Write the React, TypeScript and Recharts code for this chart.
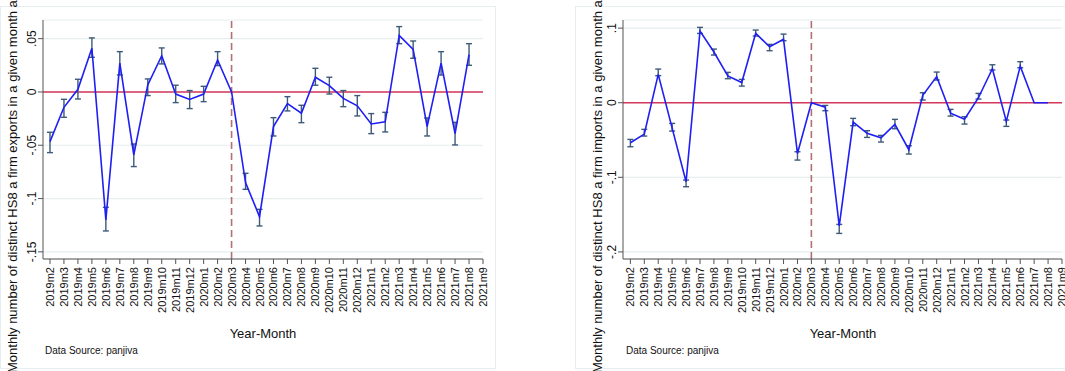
import React from 'react';
import { ComposedChart, Line, ErrorBar, XAxis, YAxis, CartesianGrid, ReferenceLine } from 'recharts';

const months = [
  '2019m2', '2019m3', '2019m4', '2019m5', '2019m6', '2019m7', '2019m8', '2019m9', '2019m10', '2019m11', '2019m12',
  '2020m1', '2020m2', '2020m3', '2020m4', '2020m5', '2020m6', '2020m7', '2020m8', '2020m9', '2020m10', '2020m11', '2020m12',
  '2021m1', '2021m2', '2021m3', '2021m4', '2021m5', '2021m6', '2021m7', '2021m8', '2021m9',
];

// exports panel
const exportsCoef = [
  -0.0466, -0.0144, 0.0025, 0.041, -0.12, 0.027, -0.059, 0.0066, 0.034, -0.002, -0.007,
  -0.002, 0.03, 0, -0.085, -0.117, -0.0325, -0.011, -0.02, 0.0138, 0.006, -0.006, -0.013,
  -0.03, -0.028, 0.053, 0.04, -0.0325, 0.027, -0.039, 0.035, null,
];
const exportsLo = [
  -0.0569, -0.0238, -0.0066, 0.0325, -0.1304, 0.0159, -0.07, -0.0034, 0.0263, -0.01, -0.0156,
  -0.0091, 0.0247, null, -0.0913, -0.1257, -0.0413, -0.0178, -0.0288, 0.0063, -0.0019, -0.0138, -0.0225,
  -0.0391, -0.0375, 0.0453, 0.0316, -0.0413, 0.0159, -0.0497, 0.025, null,
];
const exportsHi = [
  -0.0378, -0.0069, 0.0119, 0.0507, -0.1082, 0.0378, -0.0488, 0.0122, 0.0413, 0.0063, 0.0013,
  0.0053, 0.0378, null, -0.0763, -0.1101, -0.0241, -0.0044, -0.0125, 0.0222, 0.0138, 0.0013, -0.0034,
  -0.0203, -0.0191, 0.0613, 0.0478, -0.0244, 0.0378, -0.0285, 0.0453, null,
];

// imports panel
const importsCoef = [
  -0.0536, -0.042, 0.038, -0.034, -0.1059, 0.096, 0.068, 0.036, 0.027, 0.093, 0.075,
  0.085, -0.068, 0, -0.006, -0.165, -0.026, -0.041, -0.047, -0.029, -0.063, 0.01, 0.035,
  -0.014, -0.022, 0.0067, 0.0456, -0.025, 0.049, 0, 0, null,
];
const importsLo = [
  -0.059, -0.0447, 0.0362, -0.038, -0.1126, 0.0929, 0.0639, 0.0322, 0.0223, 0.0894, 0.0697,
  0.0831, -0.0769, null, -0.0107, -0.1752, -0.0308, -0.0465, -0.0527, -0.0349, -0.0688, 0.0036, 0.0304,
  -0.0179, -0.0286, 0.0049, 0.0438, -0.0317, 0.0469, null, null, null,
];
const importsHi = [
  -0.0492, -0.0357, 0.0451, -0.0277, -0.1037, 0.101, 0.0719, 0.0407, 0.0313, 0.0974, 0.0782,
  0.092, -0.0657, null, -0.0036, -0.1631, -0.021, -0.0375, -0.0438, -0.0223, -0.0576, 0.0134, 0.0411,
  -0.0089, -0.0188, 0.0125, 0.0509, -0.0232, 0.055, null, null, null,
];

const exportsTicks = [-0.15, -0.1, -0.05, 0, 0.05];
const importsTicks = [-0.2, -0.1, 0, 0.1];
const xTicks = months.map((_, i) => i);

const font = '"Liberation Sans", Arial, sans-serif';

const buildRows = (coef: (number | null)[], lo: (number | null)[], hi: (number | null)[]) =>
  months.map((m, i) => {
    const v = coef[i];
    const l = lo[i];
    const h = hi[i];
    return {
      i,
      month: m,
      v,
      err: v != null && l != null && h != null ? [v - l, h - v] : null,
    };
  }).filter((r) => r.v != null);

const fmtY = (v: number) => {
  if (v === 0) return '0';
  const s = String(Math.round(v * 100) / 100);
  return s.replace('0.', '.');
};

const XTick = ({ x, y, payload }: any) => (
  <text
    x={x}
    y={y}
    transform={`rotate(-90 ${x} ${y})`}
    textAnchor='end'
    dominantBaseline='central'
    fontSize={11}
    fontFamily={font}
    fill='#111'
  >
    {months[payload.value]}
  </text>
);

const YTick = ({ x, y, payload }: any) => (
  <text
    x={x - 4}
    y={y}
    transform={`rotate(-90 ${x - 4} ${y})`}
    textAnchor='middle'
    dominantBaseline='central'
    fontSize={12}
    fontFamily={font}
    fill='#111'
  >
    {fmtY(payload.value)}
  </text>
);

type PanelProps = {
  left: number;
  width: number;
  yAxisWidth: number;
  marginRight: number;
  xDomain: [number, number];
  yDomain: [number, number];
  yTicks: number[];
  rows: any[];
};

function Panel({ left, width, yAxisWidth, marginRight, xDomain, yDomain, yTicks, rows }: PanelProps) {
  return (
    <div style={{ position: 'absolute', left, top: 0 }}>
      <ComposedChart
        width={width}
        height={371}
        data={rows}
        margin={{ top: 20, right: marginRight, left: 0, bottom: 0 }}
      >
        <CartesianGrid vertical={false} stroke='#e6eef0' strokeWidth={1.2} />
        <XAxis
          dataKey='i'
          type='number'
          domain={xDomain}
          ticks={xTicks}
          interval={0}
          allowDataOverflow
          height={112}
          tickSize={5}
          tickMargin={3}
          stroke='#555'
          tick={<XTick />}
        />
        <YAxis
          type='number'
          domain={yDomain}
          ticks={yTicks}
          allowDataOverflow
          width={yAxisWidth}
          tickSize={5}
          tickMargin={2}
          stroke='#555'
          tick={<YTick />}
        />
        <ReferenceLine y={0} stroke='#d6375a' strokeWidth={1.6} />
        <ReferenceLine x={13} stroke='#b07075' strokeWidth={1.6} strokeDasharray='7 4' />
        <Line
          type='linear'
          dataKey='v'
          stroke='#1f1ff5'
          strokeWidth={1.6}
          dot={false}
          isAnimationActive={false}
        >
          <ErrorBar dataKey='err' direction='y' width={3} stroke='#3d5a78' strokeWidth={1.4} isAnimationActive={false} />
        </Line>
      </ComposedChart>
    </div>
  );
}

export default function App() {
  const exportRows = buildRows(exportsCoef, exportsLo, exportsHi);
  const importRows = buildRows(importsCoef, importsLo, importsHi);

  return (
    <div
      style={{
        position: 'absolute',
        left: 0,
        top: 0,
        width: 1065,
        height: 371,
        overflow: 'hidden',
        background: '#fff',
      }}
    >
      <svg width={1065} height={371} style={{ position: 'absolute', left: 0, top: 0 }}>
        <rect x={0.5} y={6.5} width={495} height={362} fill='none' stroke='#e8eef0' />
        <rect x={575.5} y={6.5} width={495} height={362} fill='none' stroke='#e8eef0' />
      </svg>
      <Panel
        left={0}
        width={500}
        yAxisWidth={43}
        marginRight={17}
        xDomain={[-0.5, 31]}
        yDomain={[-0.1567, 0.0675]}
        yTicks={exportsTicks}
        rows={exportRows}
      />
      <Panel
        left={575}
        width={490}
        yAxisWidth={48}
        marginRight={3}
        xDomain={[-0.53, 31]}
        yDomain={[-0.2095, 0.1109]}
        yTicks={importsTicks}
        rows={importRows}
      />
      <svg
        width={1065}
        height={371}
        style={{ position: 'absolute', left: 0, top: 0, pointerEvents: 'none' }}
        fontFamily={font}
      >
        <text x={12} y={373} transform='rotate(-90 12 373)' dominantBaseline='central' fontSize={13} fill='#111'>
          Monthly number of distinct HS8 a firm exports in a given month and year
        </text>
        <text x={597} y={373} transform='rotate(-90 597 373)' dominantBaseline='central' fontSize={13} fill='#111'>
          Monthly number of distinct HS8 a firm imports in a given month and year
        </text>
        <text x={263} y={333} textAnchor='middle' dominantBaseline='central' fontSize={13} fill='#111'>
          Year-Month
        </text>
        <text x={843} y={333} textAnchor='middle' dominantBaseline='central' fontSize={13} fill='#111'>
          Year-Month
        </text>
        <text x={45} y={350} dominantBaseline='central' fontSize={10} fill='#111'>
          Data Source: panjiva
        </text>
        <text x={626} y={350} dominantBaseline='central' fontSize={10} fill='#111'>
          Data Source: panjiva
        </text>
      </svg>
    </div>
  );
}
